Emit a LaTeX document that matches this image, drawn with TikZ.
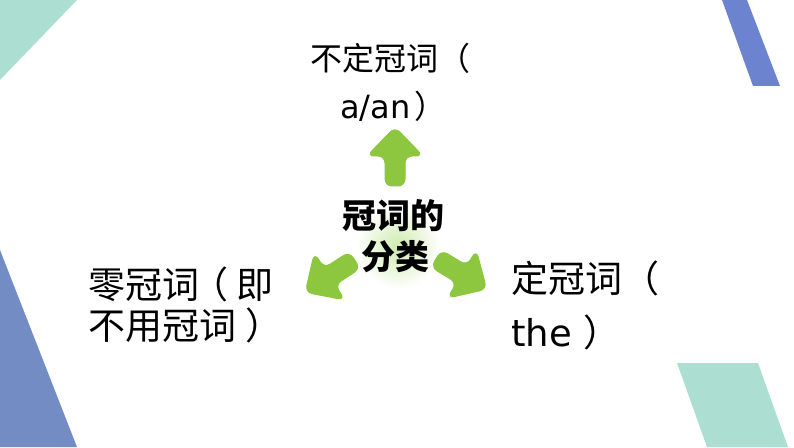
\documentclass[tikz,border=0pt]{standalone}
\usepackage{fontspec}
\newfontfamily\cjk{Noto Sans CJK SC}
\newfontfamily\lat{DejaVu Sans}
\definecolor{tealbg}{RGB}{172,223,210}
\definecolor{bluetr}{RGB}{108,132,208}
\definecolor{bluebl}{RGB}{116,140,196}
\definecolor{arrowgreen}{RGB}{141,198,63}
\definecolor{glowgreen}{RGB}{205,234,172}
\tikzset{
  bigarrow/.style={fill=arrowgreen, draw=arrowgreen, line width=1pt, rounded corners=7pt},
  labeltext/.style={inner sep=0pt, font=\cjk\fontsize{37}{40}\selectfont},
  toptext/.style={inner sep=0pt, font=\cjk\fontsize{32}{38}\selectfont},
  centertext/.style={inner sep=0pt, font=\cjk\bfseries\fontsize{34}{40}\selectfont},
}
\begin{document}
\begin{tikzpicture}[x=1pt,y=1pt]
\useasboundingbox (0,0) rectangle (794,447);
\fill[white] (0,0) rectangle (794,447);
% background shapes
\fill[tealbg] (0,447) -- (77,447) -- (0,367) -- cycle;
\fill[bluetr] (722,447) -- (747,447) -- (780,361) -- (753,361) -- cycle;
\fill[bluebl] (0,197) -- (0,0) -- (77,0) -- cycle;
\fill[tealbg] (677,84) -- (758,84) -- (788,0) -- (707,0) -- cycle;
% glow
\coordinate (c) at (395,213);
\shade[inner color=glowgreen, outer color=white] (398,200) circle (42);
% arrows
\foreach \ang in {90,213,329}{
  \draw[bigarrow, shift={(c)}, rotate=\ang]
    (48,-10) -- (78,-10) -- (78,-28) -- (107,0) -- (78,28) -- (78,10) -- (48,10) -- cycle;
}
% center text
\node[centertext, anchor=base] (ct1) at (393,218) {冠词的};
\node[centertext, anchor=base] (ct2) at (395,177) {分类};
% top text
\node[toptext, anchor=base west] (t1) at (310,376) {不定冠词（};
\node[toptext, anchor=base west] (t2) at (340,328) {{\lat a/an}\kern0.12em）};
% left text
\node[labeltext, anchor=base west] (l1) at (88,148) {零冠词\kern-0.22em（\kern0.22em即};
\node[labeltext, anchor=base west] (l2) at (88,108) {不用冠词\kern0.25em）};
% right text
\node[labeltext, anchor=base west] (r1) at (511,154) {定冠词（};
\node[labeltext, anchor=base west] (r2) at (511,100) {{\lat the}\kern0.3em）};
\end{tikzpicture}
\end{document}
